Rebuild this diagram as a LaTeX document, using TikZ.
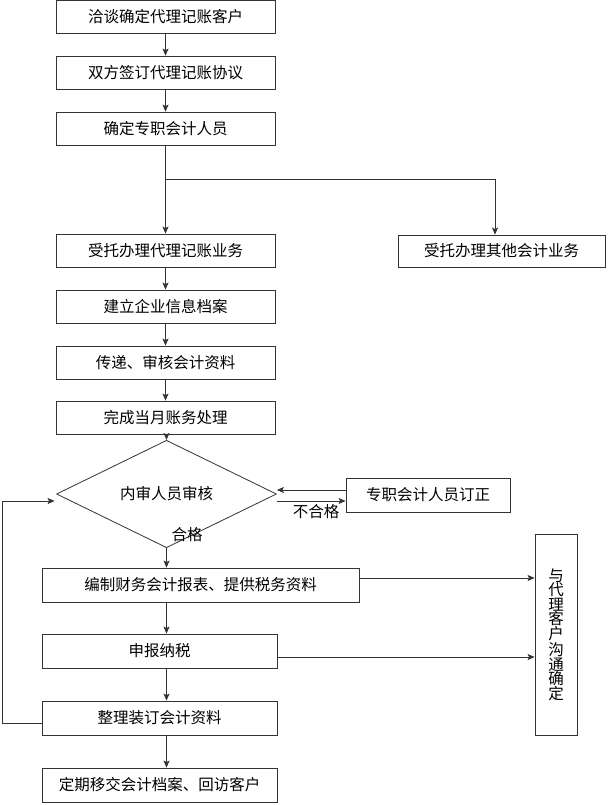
\documentclass[tikz,border=0pt]{standalone}
\usepackage{fontspec}
\newfontfamily\cjk{Noto Sans CJK SC}
\usetikzlibrary{shapes.geometric,arrows.meta}
\begin{document}
\begin{tikzpicture}[x=1pt,y=-1pt,
  box/.style={draw=black!80, line width=0.8pt, inner sep=0pt, fill=white,
    font=\cjk\fontsize{15.5}{18}\selectfont},
  mainbox/.style={box, minimum width=219pt, minimum height=33pt},
  lowbox/.style={box, minimum width=235pt, minimum height=34pt},
  arr/.style={draw=black!80, line width=0.8pt, -{Stealth[length=7pt,width=6pt,inset=1.5pt]}},
  lbl/.style={font=\cjk\fontsize{15.5}{18}\selectfont, inner sep=0pt}]
\useasboundingbox (0,0) rectangle (608,805);
\fill[white] (0,0) rectangle (608,805);
% nodes
\node[mainbox] (b1) at (165.5,17) {洽谈确定代理记账客户};
\node[mainbox] (b2) at (165.5,72.5) {双方签订代理记账协议};
\node[mainbox] (b3) at (165.5,128.5) {确定专职会计人员};
\node[mainbox] (b4) at (165.5,250.5) {受托办理代理记账业务};
\node[box, minimum width=207pt, minimum height=32pt] (rb) at (501.5,251) {受托办理其他会计业务};
\node[mainbox] (b5) at (165.5,306.5) {建立企业信息档案};
\node[mainbox] (b6) at (165.5,362.5) {传递、审核会计资料};
\node[mainbox] (b7) at (165.5,417.5) {完成当月账务处理};
\node[box, diamond, minimum width=220pt, minimum height=55pt] (dm) at (166.5,494) {内审人员审核};
\node[box, minimum width=164pt, minimum height=34pt] (fx) at (428,495) {专职会计人员订正};
\node[box, minimum width=317pt, minimum height=34pt] (b8) at (200.5,585) {编制财务会计报表、提供税务资料};
\node[lowbox] (b9) at (159.5,651) {申报纳税};
\node[lowbox] (b10) at (159.5,718) {整理装订会计资料};
\node[lowbox] (b11) at (159.5,785) {定期移交会计档案、回访客户};
\node[box, minimum width=42pt, minimum height=201pt, align=center,
  font=\cjk\fontsize{15.5}{14.5}\selectfont] (vb) at (556,634.5)
  {与\\代\\理\\客\\户\\[2pt]沟\\通\\确\\定};
\node[lbl] (ok) at (187,535) {合格};
\node[lbl] (nok) at (316,512) {不合格};
% connectors
\draw[arr] (b1) -- (b2);
\draw[arr] (b2) -- (b3);
\draw[arr] (b3) -- (b4);
\draw[arr] (b3.south |- 0,179) -| ([xshift=-6.5pt]rb.north);
\draw[arr] (b4) -- (b5);
\draw[arr] (b5) -- (b6);
\draw[arr] (b6) -- (b7);
\draw[arr] (b7.south -| dm.north) -- (dm.north);
\draw[arr] (dm.south) -- (dm.south |- b8.north);
\draw[arr] ([yshift=5pt]fx.west) -- ([yshift=5pt]fx.west -| dm.east);
\draw[arr] ([yshift=-6pt]fx.west -| dm.east) -- ([yshift=-6pt]fx.west);
\draw[arr] (b8.south -| dm.south) -- (b9.north -| dm.south);
\draw[arr] (b9.south -| dm.south) -- (b10.north -| dm.south);
\draw[arr] (b10.south -| dm.south) -- (b11.north -| dm.south);
\draw[arr] ([yshift=7pt]b8.east) -- ([yshift=7pt]b8.east -| vb.west);
\draw[arr] ([yshift=-6pt]b9.east) -- ([yshift=-6pt]b9.east -| vb.west);
\coordinate (lp) at (2,501);
\draw[arr] ([yshift=-5pt]b10.west) -| (lp) -- ([xshift=-1.5pt]lp -| dm.west);
\end{tikzpicture}
\end{document}
